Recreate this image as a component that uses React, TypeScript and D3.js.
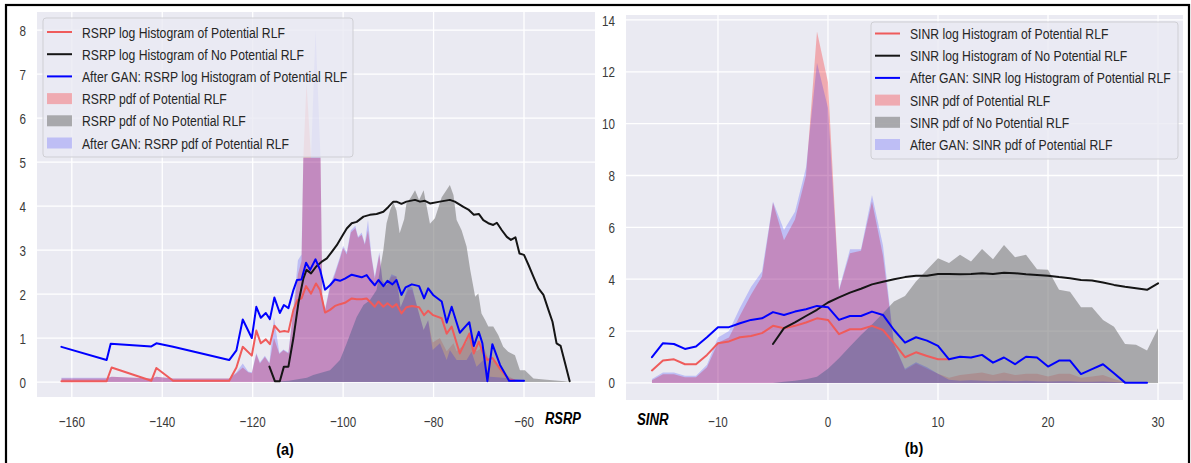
import React from 'react';
import * as d3 from 'd3';

type Pt = [number, number];

// ---------- RSRP panel (a) ----------
const RSRP_X_TICKS = [-160, -140, -120, -100, -80, -60];
const RSRP_Y_TICKS = [0, 1, 2, 3, 4, 5, 6, 7, 8];

const RSRP_LOG_HIST_RLF: Pt[] = [
  [-162.3, 0.02], [-152.3, 0.02], [-151.2, 0.33], [-142.4, 0.03], [-141.3, 0.32], [-137.6, 0.03],
  [-125.2, 0.03], [-123.6, 0.33], [-122.2, 0.8], [-120.2, 0.6], [-119.2, 1.17], [-118.2, 0.88],
  [-117.1, 0.97], [-116.2, 0.86], [-115.2, 1.28], [-114.0, 1.14], [-113.0, 1.16], [-112.1, 1.14],
  [-111.0, 1.64], [-110.1, 1.86], [-109.2, 1.9], [-108.2, 2.18], [-107.1, 2.01], [-106.0, 2.24],
  [-105.1, 2.09], [-104.0, 1.58], [-102.9, 1.64], [-101.8, 1.73], [-100.7, 1.77], [-99.6, 1.8],
  [-98.1, 1.9], [-97.0, 1.88], [-95.9, 1.88], [-94.8, 1.9], [-94.1, 1.83], [-93.0, 1.71],
  [-92.2, 1.83], [-91.1, 1.71], [-90.2, 1.79], [-89.1, 1.7], [-88.2, 1.77], [-87.1, 1.56],
  [-86.0, 1.7], [-84.8, 1.73], [-83.2, 1.7], [-82.1, 1.52], [-81.2, 1.62], [-80.1, 1.52],
  [-78.2, 1.45], [-77.1, 1.1], [-76.0, 1.26], [-74.2, 0.65], [-72.1, 1.1], [-71.1, 0.65],
  [-70.0, 0.92], [-69.2, 0.69], [-68.1, 0.5], [-67.0, 0.55], [-65.3, 0.3], [-63.3, 0.05], [-62.0, 0.03],
];

const RSRP_LOG_HIST_NO_RLF: Pt[] = [
  [-116.3, 0.35], [-115.1, 0.02], [-114.0, 0.02], [-113.1, 0.35], [-112.1, 0.35], [-111.0, 1.0],
  [-109.9, 1.79], [-108.8, 2.35], [-108.1, 2.55], [-107.1, 2.47], [-106.0, 2.62], [-104.8, 2.73],
  [-103.6, 2.81], [-102.5, 2.96], [-101.4, 3.11], [-100.3, 3.3], [-99.2, 3.49], [-98.1, 3.61],
  [-97.0, 3.64], [-95.5, 3.76], [-94.1, 3.8], [-92.6, 3.82], [-91.1, 3.87], [-90.0, 3.98],
  [-88.9, 4.1], [-88.2, 4.1], [-87.1, 4.05], [-86.0, 4.1], [-84.1, 4.14], [-83.0, 4.1],
  [-81.9, 4.12], [-80.8, 4.06], [-78.6, 4.1], [-76.4, 4.14], [-75.3, 4.1], [-73.4, 3.98],
  [-72.3, 3.92], [-71.1, 3.8], [-70.0, 3.82], [-69.0, 3.68], [-67.9, 3.61], [-66.8, 3.57],
  [-66.0, 3.62], [-64.9, 3.45], [-63.8, 3.3], [-62.9, 3.23], [-61.9, 3.29], [-61.0, 2.92],
  [-60.0, 2.89], [-59.0, 2.66], [-57.9, 2.39], [-56.8, 2.13], [-55.7, 1.98], [-54.6, 1.64],
  [-53.7, 1.37], [-52.8, 0.88], [-51.9, 0.82], [-50.9, 0.42], [-49.9, 0.02],
];

const RSRP_LOG_HIST_GAN: Pt[] = [
  [-162.3, 0.8], [-152.3, 0.5], [-151.4, 0.87], [-142.4, 0.81], [-141.3, 0.88], [-137.6, 0.8],
  [-125.2, 0.5], [-123.6, 0.72], [-122.2, 1.42], [-120.2, 1.0], [-119.2, 1.71], [-118.2, 1.46],
  [-117.1, 1.57], [-116.2, 1.43], [-115.2, 1.92], [-114.0, 1.57], [-113.1, 1.75], [-112.1, 1.68],
  [-111.0, 2.09], [-110.2, 2.32], [-109.2, 2.33], [-108.2, 2.71], [-107.3, 2.55], [-106.1, 2.79],
  [-105.1, 2.55], [-104.0, 2.1], [-102.9, 2.2], [-101.8, 2.33], [-100.7, 2.3], [-99.6, 2.35],
  [-98.1, 2.44], [-97.0, 2.41], [-95.9, 2.38], [-94.8, 2.43], [-94.1, 2.33], [-93.0, 2.2],
  [-92.2, 2.32], [-91.1, 2.18], [-90.2, 2.3], [-89.1, 2.22], [-88.2, 2.32], [-87.1, 1.98],
  [-86.2, 2.15], [-84.8, 2.22], [-83.2, 2.18], [-82.1, 1.9], [-81.2, 2.13], [-80.1, 1.98],
  [-78.2, 1.83], [-77.1, 1.35], [-76.0, 1.71], [-74.2, 1.12], [-72.1, 1.36], [-71.1, 0.82],
  [-70.0, 1.14], [-69.2, 0.88], [-68.1, 0.02], [-67.0, 0.86], [-65.3, 0.39], [-63.3, 0.03], [-60.0, 0.03],
];

const RSRP_PDF_RLF: Pt[] = [
  [-162.3, 0.08], [-152.3, 0.08], [-151.2, 0.12], [-142.4, 0.08], [-141.3, 0.12], [-137.6, 0.08],
  [-125.2, 0.08], [-123.6, 0.2], [-122.2, 0.33], [-121.0, 0.22], [-120.2, 0.2], [-119.2, 0.63],
  [-118.4, 0.42], [-117.3, 0.57], [-116.3, 0.42], [-115.3, 1.0], [-114.1, 0.64], [-113.2, 0.72],
  [-112.1, 0.65], [-111.0, 1.6], [-110.0, 2.45], [-109.2, 2.75], [-108.8, 5.1], [-108.1, 6.8],
  [-107.1, 5.1], [-106.1, 5.1], [-105.0, 5.1], [-104.6, 1.9], [-104.0, 1.62], [-102.9, 2.15],
  [-101.8, 2.45], [-100.7, 2.8], [-100.0, 3.05], [-99.2, 2.9], [-98.3, 3.4], [-97.3, 3.5],
  [-96.7, 3.28], [-95.9, 3.35], [-95.2, 3.12], [-94.5, 3.45], [-93.7, 2.8], [-93.0, 2.35],
  [-92.0, 2.9], [-91.3, 2.3], [-90.4, 2.2], [-89.3, 2.4], [-88.2, 2.4], [-87.3, 1.7],
  [-86.5, 1.9], [-85.6, 2.1], [-84.7, 2.1], [-83.6, 1.7], [-82.2, 1.18], [-81.2, 1.4],
  [-80.2, 0.9], [-78.6, 1.0], [-77.1, 0.7], [-75.6, 0.88], [-74.9, 0.7], [-72.7, 0.9],
  [-72.0, 1.15], [-70.5, 0.7], [-69.0, 0.8], [-67.5, 0.45], [-66.8, 0.5], [-64.6, 0.2], [-62.0, 0.05],
];

const RSRP_PDF_NO_RLF: Pt[] = [
  [-116.0, 0.0], [-112.0, 0.03], [-108.0, 0.1], [-106.6, 0.16], [-102.9, 0.27], [-100.7, 0.5],
  [-99.2, 0.88], [-98.1, 1.18], [-97.0, 1.48], [-95.5, 1.75], [-94.1, 1.86], [-92.6, 2.09],
  [-91.1, 3.0], [-90.4, 3.61], [-89.6, 3.91], [-88.9, 4.08], [-88.2, 3.9], [-87.5, 3.38],
  [-86.5, 3.7], [-86.0, 4.06], [-85.0, 4.2], [-84.1, 4.36], [-83.2, 4.14], [-82.2, 4.36],
  [-80.8, 3.6], [-79.7, 3.72], [-78.2, 4.2], [-76.4, 4.48], [-75.6, 4.25], [-74.9, 3.68],
  [-73.8, 3.45], [-72.7, 3.08], [-71.9, 2.55], [-70.8, 1.94], [-70.1, 2.01], [-69.4, 1.56],
  [-68.6, 1.41], [-67.9, 1.26], [-66.8, 1.26], [-65.7, 1.07], [-64.6, 0.8], [-63.5, 0.69],
  [-62.0, 0.61], [-60.9, 0.27], [-59.8, 0.27], [-57.9, 0.08], [-55.0, 0.05], [-51.0, 0.02], [-50.0, 0.0],
];

const RSRP_PDF_GAN: Pt[] = [
  [-162.3, 0.1], [-152.3, 0.1], [-151.2, 0.12], [-142.4, 0.08], [-141.3, 0.12], [-137.6, 0.08],
  [-125.2, 0.08], [-123.6, 0.22], [-122.2, 0.42], [-121.0, 0.24], [-120.2, 0.22], [-119.2, 0.66],
  [-118.4, 0.45], [-117.3, 0.6], [-116.3, 0.44], [-115.3, 1.48], [-114.1, 0.66], [-113.2, 0.74],
  [-112.1, 0.67], [-111.0, 1.7], [-110.0, 2.77], [-109.2, 2.9], [-108.8, 5.1], [-108.1, 5.1],
  [-107.1, 5.1], [-106.1, 8.0], [-105.0, 5.1], [-104.6, 1.95], [-104.0, 1.66], [-102.9, 2.2],
  [-101.8, 2.5], [-100.7, 2.85], [-100.0, 3.1], [-99.2, 2.95], [-98.3, 3.45], [-97.3, 3.55],
  [-96.7, 3.3], [-95.9, 3.4], [-95.2, 3.15], [-94.5, 3.68], [-93.7, 2.85], [-93.0, 2.4],
  [-92.0, 2.95], [-91.3, 2.3], [-90.4, 2.2], [-89.3, 2.45], [-88.2, 2.4], [-87.3, 1.7],
  [-86.5, 1.9], [-85.6, 2.2], [-84.7, 2.15], [-83.6, 1.7], [-82.2, 1.18], [-81.2, 1.41],
  [-80.2, 0.73], [-78.6, 0.88], [-77.1, 0.5], [-76.4, 0.73], [-74.9, 0.5], [-72.7, 0.5],
  [-71.6, 0.69], [-70.5, 0.35], [-69.0, 0.5], [-67.5, 0.12], [-64.6, 0.1], [-60.0, 0.04],
];

const RSRP_LEGEND = [
  'RSRP log Histogram of Potential RLF',
  'RSRP log Histogram of No Potential RLF',
  'After GAN: RSRP log Histogram of Potential RLF',
  'RSRP pdf of Potential RLF',
  'RSRP pdf of No Potential RLF',
  'After GAN: RSRP pdf of Potential RLF',
];

// ---------- SINR panel (b) ----------
const SINR_X_TICKS = [-10, 0, 10, 20, 30];
const SINR_Y_TICKS = [0, 2, 4, 6, 8, 10, 12, 14];

const SINR_LOG_HIST_RLF: Pt[] = [
  [-16, 0.48], [-15, 0.86], [-14, 0.91], [-13, 0.72], [-12, 0.72], [-11, 1.08], [-10, 1.53],
  [-9, 1.6], [-8, 1.76], [-7, 1.81], [-6, 1.92], [-5, 2.2], [-4, 2.11], [-3, 2.2], [-2, 2.33],
  [-1, 2.49], [0, 2.43], [1, 1.88], [2, 2.07], [3, 2.07], [4, 2.2], [5, 2.04], [6, 1.53],
  [7, 0.99], [8, 1.18], [9, 1.04], [10, 0.91], [11, 0.91],
];

const SINR_LOG_HIST_NO_RLF: Pt[] = [
  [-5, 1.5], [-4, 2.11], [-3, 2.33], [-2, 2.58], [-1, 2.82], [0, 3.1], [1, 3.3], [2, 3.48],
  [3, 3.63], [4, 3.8], [5, 3.9], [6, 4.0], [7, 4.08], [8, 4.13], [9, 4.13], [10, 4.2],
  [11, 4.2], [12, 4.19], [13, 4.2], [14, 4.23], [15, 4.2], [16, 4.25], [17, 4.23], [18, 4.19],
  [19, 4.16], [20, 4.13], [21, 4.08], [22, 4.04], [23, 3.97], [24, 3.95], [25, 3.87], [26, 3.78],
  [27, 3.71], [28, 3.65], [29, 3.59], [30, 3.84],
];

const SINR_LOG_HIST_GAN: Pt[] = [
  [-16, 0.99], [-15, 1.53], [-14, 1.5], [-13, 1.31], [-12, 1.4], [-11, 1.76], [-10, 2.15],
  [-9, 2.15], [-8, 2.3], [-7, 2.43], [-6, 2.49], [-5, 2.73], [-4, 2.62], [-3, 2.75], [-2, 2.84],
  [-1, 2.97], [0, 2.92], [1, 2.43], [2, 2.58], [3, 2.58], [4, 2.75], [5, 2.62], [6, 2.04],
  [7, 1.55], [8, 1.76], [9, 1.63], [10, 1.43], [11, 0.91], [12, 1.01], [13, 0.98], [14, 1.08],
  [15, 0.78], [16, 0.98], [17, 0.72], [18, 1.01], [19, 0.98], [20, 0.63], [21, 0.86], [22, 0.86],
  [23, 0.34], [24, 0.53], [25, 0.72], [26, 0.37], [27, 0.01], [28, 0.01], [29, 0.01],
];

const SINR_PDF_RLF: Pt[] = [
  [-16, 0.1], [-15, 0.33], [-14, 0.33], [-13, 0.22], [-12, 0.22], [-11, 0.6], [-10, 1.55],
  [-9, 1.75], [-8, 2.6], [-7, 3.4], [-6, 4.1], [-5, 6.95], [-4, 5.5], [-3, 6.3], [-2, 8.0],
  [-1, 13.55], [0, 11.6], [1, 3.55], [2, 5.0], [3, 5.1], [4, 7.0], [5, 4.9], [6, 1.5],
  [7, 0.5], [8, 0.75], [9, 0.55], [10, 0.35], [11, 0.2], [12, 0.3], [13, 0.35], [14, 0.4],
  [15, 0.3], [16, 0.4], [17, 0.3], [18, 0.35], [19, 0.35], [20, 0.25], [21, 0.35], [22, 0.35],
  [23, 0.2], [24, 0.25], [25, 0.3], [26, 0.15], [27, 0.02],
];

const SINR_PDF_NO_RLF: Pt[] = [
  [-5, 0.0], [-4, 0.04], [-3, 0.08], [-2, 0.14], [-1, 0.24], [0, 0.55], [1, 0.95], [2, 1.4],
  [3, 1.85], [4, 2.25], [5, 2.69], [6, 3.14], [7, 3.35], [8, 3.91], [9, 4.36], [10, 4.81],
  [11, 4.62], [12, 4.94], [13, 4.68], [14, 5.16], [15, 4.77], [16, 5.32], [17, 4.85], [18, 4.94],
  [19, 4.38], [20, 4.36], [21, 3.59], [22, 3.52], [23, 2.92], [24, 2.92], [25, 2.43], [26, 2.17],
  [27, 1.5], [28, 1.47], [29, 1.25], [30, 2.11],
];

const SINR_PDF_GAN: Pt[] = [
  [-16, 0.15], [-15, 0.4], [-14, 0.4], [-13, 0.28], [-12, 0.28], [-11, 0.7], [-10, 1.75],
  [-9, 2.0], [-8, 2.9], [-7, 3.7], [-6, 4.3], [-5, 7.0], [-4, 5.9], [-3, 6.6], [-2, 8.3],
  [-1, 12.35], [0, 10.6], [1, 3.6], [2, 5.15], [3, 5.15], [4, 7.25], [5, 5.3], [6, 1.5],
  [7, 0.55], [8, 0.8], [9, 0.6], [10, 0.35], [11, 0.12], [12, 0.08], [13, 0.1], [14, 0.08],
  [15, 0.06], [16, 0.08], [17, 0.06], [18, 0.08], [19, 0.06], [20, 0.05], [21, 0.06], [22, 0.06],
  [23, 0.04], [24, 0.04], [25, 0.05], [26, 0.03], [27, 0.01], [28, 0.01], [29, 0.01],
];

const SINR_LEGEND = [
  'SINR log Histogram of Potential RLF',
  'SINR log Histogram of No Potential RLF',
  'After GAN: SINR log Histogram of Potential RLF',
  'SINR pdf of Potential RLF',
  'SINR pdf of No Potential RLF',
  'After GAN: SINR pdf of Potential RLF',
];

// ---------- styling ----------
const FONT = '"Liberation Sans", Arial, Helvetica, sans-serif';
const BG = '#eaeaf2';
const LINE_COLORS = ['#ef5b5b', '#151515', '#0000ff'];
const FILL_STYLES = [
  { color: '#ff0000', opacity: 0.27 },
  { color: '#808080', opacity: 0.62 },
  { color: '#0000ff', opacity: 0.19 },
];

const fmt = (v: number) => String(v).replace('-', '\u2212');

interface PanelProps {
  id: string;
  box: { x0: number; x1: number; y0: number; y1: number };
  xDomain: [number, number];
  yDomain: [number, number];
  xTicks: number[];
  yTicks: number[];
  lines: Pt[][];
  fills: Pt[][];
  legend: { x: number; y: number; w: number; h: number; rowY: number; labels: string[] };
}

function Panel({ id, box, xDomain, yDomain, xTicks, yTicks, lines, fills, legend }: PanelProps) {
  const x = d3.scaleLinear().domain(xDomain).range([box.x0, box.x1]);
  const y = d3.scaleLinear().domain(yDomain).range([box.y1, box.y0]);
  const line = d3.line<Pt>().x((d) => x(d[0])).y((d) => y(d[1]));
  const area = d3
    .area<Pt>()
    .x((d) => x(d[0]))
    .y0(() => y(0))
    .y1((d) => y(d[1]));
  const clipId = `clip-${id}`;
  const handleX0 = legend.x + 4;
  const handleX1 = legend.x + 29;
  const textX = legend.x + 39;

  return (
    <g>
      <defs>
        <clipPath id={clipId}>
          <rect x={box.x0} y={box.y0} width={box.x1 - box.x0} height={box.y1 - box.y0} />
        </clipPath>
      </defs>
      <rect x={box.x0} y={box.y0} width={box.x1 - box.x0} height={box.y1 - box.y0} fill={BG} />
      {xTicks.map((t) => (
        <line key={`gx${t}`} x1={x(t)} x2={x(t)} y1={box.y0} y2={box.y1} stroke="#fff" strokeWidth={1.3} />
      ))}
      {yTicks.map((t) => (
        <line key={`gy${t}`} x1={box.x0} x2={box.x1} y1={y(t)} y2={y(t)} stroke="#fff" strokeWidth={1.3} />
      ))}
      <g clipPath={`url(#${clipId})`}>
        {fills.map((d, i) => (
          <path key={`f${i}`} d={area(d) || ''} fill={FILL_STYLES[i].color} fillOpacity={FILL_STYLES[i].opacity} />
        ))}
        {lines.map((d, i) => (
          <path
            key={`l${i}`}
            d={line(d) || ''}
            fill="none"
            stroke={LINE_COLORS[i]}
            strokeWidth={2}
            strokeLinejoin="round"
            strokeLinecap="round"
          />
        ))}
      </g>
      {xTicks.map((t) => (
        <text
          key={`tx${t}`}
          transform={`translate(${x(t)},426.5) scale(0.75,1)`}
          textAnchor="middle"
          fontFamily={FONT}
          fontSize={15.5}
          fill="#3a3a3a"
        >
          {fmt(t)}
        </text>
      ))}
      {yTicks.map((t) => (
        <text
          key={`ty${t}`}
          transform={`translate(${box.x0 - 11},${y(t) + 5.6}) scale(0.75,1)`}
          textAnchor="end"
          fontFamily={FONT}
          fontSize={15.5}
          fill="#3a3a3a"
        >
          {fmt(t)}
        </text>
      ))}
      <g>
        <rect
          x={legend.x}
          y={legend.y}
          width={legend.w}
          height={legend.h}
          rx={3}
          fill={BG}
          fillOpacity={0.8}
          stroke="#cfcfd4"
          strokeWidth={1}
        />
        {legend.labels.map((label, i) => {
          const cy = legend.rowY + i * 22.2;
          return (
            <g key={label}>
              {i < 3 ? (
                <line x1={handleX0} x2={handleX1} y1={cy} y2={cy} stroke={LINE_COLORS[i]} strokeWidth={2} />
              ) : (
                <rect
                  x={handleX0}
                  y={cy - 5.5}
                  width={handleX1 - handleX0}
                  height={11}
                  fill={FILL_STYLES[i - 3].color}
                  fillOpacity={FILL_STYLES[i - 3].opacity}
                />
              )}
              <text
                transform={`translate(${textX},${cy + 5.5}) scale(0.786,1)`}
                fontFamily={FONT}
                fontSize={15.5}
                fill="#262626"
              >
                {label}
              </text>
            </g>
          );
        })}
      </g>
    </g>
  );
}

export default function App() {
  return (
    <svg
      width={1191}
      height={463}
      viewBox="0 0 1191 463"
      style={{ position: 'absolute', left: 0, top: 0, display: 'block' }}
    >
      <rect x={0} y={0} width={1191} height={463} fill="#ffffff" />
      <Panel
        id="rsrp"
        box={{ x0: 37, x1: 595, y0: 12, y1: 397 }}
        xDomain={[-167.7, -44.3]}
        yDomain={[-0.34, 8.41]}
        xTicks={RSRP_X_TICKS}
        yTicks={RSRP_Y_TICKS}
        lines={[RSRP_LOG_HIST_RLF, RSRP_LOG_HIST_NO_RLF, RSRP_LOG_HIST_GAN]}
        fills={[RSRP_PDF_RLF, RSRP_PDF_NO_RLF, RSRP_PDF_GAN]}
        legend={{ x: 43, y: 18, w: 310, h: 139, rowY: 32, labels: RSRP_LEGEND }}
      />
      <Panel
        id="sinr"
        box={{ x0: 626, x1: 1183, y0: 15, y1: 400 }}
        xDomain={[-18.36, 32.27]}
        yDomain={[-0.66, 14.19]}
        xTicks={SINR_X_TICKS}
        yTicks={SINR_Y_TICKS}
        lines={[SINR_LOG_HIST_RLF, SINR_LOG_HIST_NO_RLF, SINR_LOG_HIST_GAN]}
        fills={[SINR_PDF_RLF, SINR_PDF_NO_RLF, SINR_PDF_GAN]}
        legend={{ x: 871, y: 22, w: 307, h: 137, rowY: 33.5, labels: SINR_LEGEND }}
      />
      <text
        transform="translate(545,424) scale(0.76,1)"
        fontFamily={FONT}
        fontSize={17}
        fontWeight="bold"
        fontStyle="italic"
        fill="#000"
      >
        RSRP
      </text>
      <text
        transform="translate(637,424.5) scale(0.78,1)"
        fontFamily={FONT}
        fontSize={17}
        fontWeight="bold"
        fontStyle="italic"
        fill="#000"
      >
        SINR
      </text>
      <text
        transform="translate(285,455) scale(0.85,1)"
        textAnchor="middle"
        fontFamily={FONT}
        fontSize={17}
        fontWeight="bold"
        fill="#000"
      >
        (a)
      </text>
      <text
        transform="translate(914,454) scale(0.85,1)"
        textAnchor="middle"
        fontFamily={FONT}
        fontSize={17}
        fontWeight="bold"
        fill="#000"
      >
        (b)
      </text>
      <rect x={6} y={5} width={1183} height={470} fill="none" stroke="#000" strokeWidth={2.2} />
    </svg>
  );
}
